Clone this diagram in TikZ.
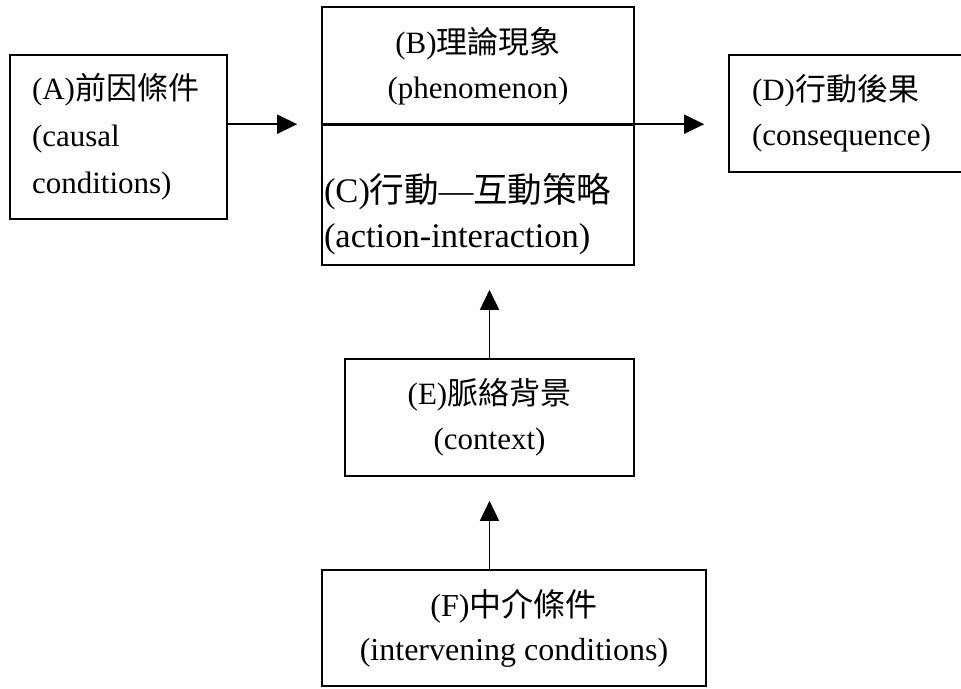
\documentclass[tikz,border=0pt]{standalone}
\usepackage{fontspec}
\setmainfont{Liberation Serif}
\newfontfamily\cjk{Noto Sans CJK TC}
\usetikzlibrary{arrows.meta}

\begin{document}
\begin{tikzpicture}[x=1pt, y=-1pt,
  box/.style={draw, line width=1.6pt, inner sep=0pt, font=\fontsize{31}{45}\selectfont},
  flow/.style={line width=1.6pt, -{Triangle[length=20pt, width=19pt]}, shorten >=24pt}]
\useasboundingbox (0,0) rectangle (961,688);
\node[box, minimum width=217pt, minimum height=164pt, text width=173pt, align=left, font=\fontsize{31}{47}\selectfont] (A) at (118.5,137) {(A){\cjk 前因條件}\\(causal\\conditions)};
\node[box, minimum width=312pt, minimum height=118pt, align=center] (B) at (478,66) {(B){\cjk 理論現象}\\(phenomenon)};
\node[box, minimum width=312pt, minimum height=140pt, text width=308pt, align=left, text height=67pt, font=\fontsize{34.5}{45}\selectfont] (C) at (478,195) {(C){\cjk 行動}—{\cjk 互動策略}\\(action-interaction)};
\node[box, minimum width=234pt, minimum height=117pt, text width=188pt, align=left] (D) at (846,113.5) {(D){\cjk 行動後果}\\(consequence)};
\node[box, minimum width=289pt, minimum height=117pt, align=center] (E) at (489.5,417.5) {(E){\cjk 脈絡背景}\\(context)};
\node[box, minimum width=384pt, minimum height=116pt, align=center, font=\fontsize{32}{44}\selectfont] (F) at (514,628) {(F){\cjk 中介條件}\\(intervening conditions)};
\draw[flow] (A.east |- C.north) -- (C.north west);
\draw[flow] (C.north west) -- (C.north west -| D.west);
\draw[flow] (E.north) -- (E.north |- C.south);
\draw[flow] (E.south |- F.north) -- (E.south);
\end{tikzpicture}
\end{document}
